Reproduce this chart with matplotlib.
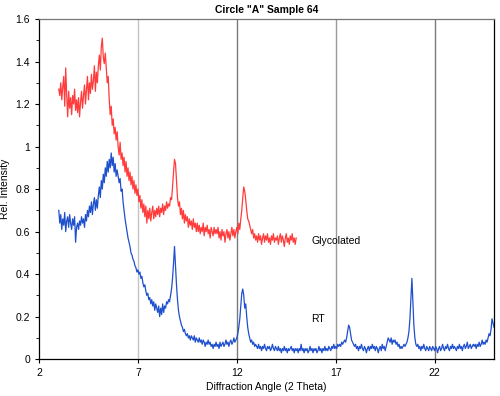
import numpy as np
import matplotlib
matplotlib.use('Agg')
from matplotlib import pyplot as plt

plt.rcParams['font.family'] = ['Liberation Sans', 'DejaVu Sans']

# sampling grid (2 Theta), step 0.05
x_glyc = np.arange(3.0, 15.0001, 0.05)
x_rt = np.arange(3.0, 25.0001, 0.05)

glycolated = [
    1.27, 1.24, 1.30, 1.22, 1.28, 1.33, 1.19, 1.37, 1.24, 1.14, 1.26, 1.18, 1.23, 1.15, 1.24, 1.20, 1.27, 1.17, 1.22, 1.16,
    1.23, 1.14, 1.21, 1.26, 1.18, 1.24, 1.29, 1.20, 1.27, 1.33, 1.22, 1.30, 1.25, 1.34, 1.27, 1.31, 1.38, 1.26, 1.35, 1.30,
    1.38, 1.43, 1.36, 1.47, 1.51, 1.42, 1.39, 1.44, 1.37, 1.30, 1.33, 1.22, 1.15, 1.19, 1.10, 1.13, 1.06, 1.09, 1.03, 1.07,
    1.00, 0.96, 1.02, 0.94, 0.97, 0.91, 0.95, 0.88, 0.93, 0.86, 0.90, 0.84, 0.88, 0.82, 0.86, 0.80, 0.84, 0.78, 0.82, 0.77,
    0.80, 0.74, 0.77, 0.71, 0.75, 0.69, 0.73, 0.67, 0.72, 0.64, 0.70, 0.66, 0.71, 0.65, 0.69, 0.72, 0.66, 0.70, 0.67, 0.71,
    0.68, 0.72, 0.67, 0.71, 0.69, 0.73, 0.68, 0.72, 0.70, 0.74, 0.71, 0.73, 0.72, 0.76, 0.75, 0.81, 0.88, 0.94, 0.92, 0.84,
    0.76, 0.72, 0.74, 0.68, 0.71, 0.66, 0.70, 0.64, 0.68, 0.65, 0.67, 0.62, 0.66, 0.63, 0.65, 0.61, 0.66, 0.62, 0.64, 0.60,
    0.64, 0.60, 0.63, 0.59, 0.62, 0.60, 0.64, 0.58, 0.62, 0.60, 0.63, 0.59, 0.61, 0.57, 0.62, 0.60, 0.58, 0.62, 0.59, 0.61,
    0.59, 0.62, 0.57, 0.60, 0.56, 0.61, 0.58, 0.60, 0.55, 0.59, 0.61, 0.57, 0.60, 0.56, 0.59, 0.62, 0.58, 0.61, 0.57, 0.60,
    0.62, 0.59, 0.64, 0.61, 0.66, 0.70, 0.76, 0.81, 0.79, 0.75, 0.70, 0.66, 0.65, 0.63, 0.61, 0.59, 0.61, 0.57, 0.59, 0.56,
    0.58, 0.55, 0.59, 0.56, 0.58, 0.54, 0.57, 0.59, 0.55, 0.58, 0.56, 0.59, 0.55, 0.57, 0.54, 0.58, 0.56, 0.59, 0.55, 0.57,
    0.56, 0.58, 0.54, 0.57, 0.59, 0.55, 0.58, 0.56, 0.53, 0.57, 0.59, 0.55, 0.57, 0.54, 0.58, 0.56, 0.59, 0.55, 0.57, 0.54, 0.57,
]

rt = [
    0.70, 0.64, 0.68, 0.61, 0.66, 0.63, 0.69, 0.60, 0.65, 0.67, 0.62, 0.68, 0.64, 0.61, 0.66, 0.63, 0.67, 0.55, 0.62, 0.64,
    0.61, 0.65, 0.63, 0.67, 0.64, 0.66, 0.62, 0.68, 0.65, 0.70, 0.67, 0.72, 0.69, 0.74, 0.68, 0.73, 0.76, 0.70, 0.75, 0.71,
    0.77, 0.81, 0.76, 0.84, 0.80, 0.87, 0.83, 0.90, 0.86, 0.93, 0.88, 0.94, 0.90, 0.97, 0.91, 0.95, 0.88, 0.92, 0.86, 0.89,
    0.86, 0.83, 0.85, 0.79, 0.80, 0.74, 0.70, 0.66, 0.63, 0.60, 0.57, 0.55, 0.53, 0.50, 0.49, 0.47, 0.46, 0.44, 0.43, 0.41,
    0.42, 0.40, 0.41, 0.38, 0.39, 0.36, 0.34, 0.35, 0.32, 0.30, 0.31, 0.28, 0.29, 0.26, 0.28, 0.25, 0.27, 0.23, 0.26, 0.24,
    0.22, 0.25, 0.20, 0.24, 0.21, 0.26, 0.22, 0.25, 0.24, 0.27, 0.26, 0.28, 0.27, 0.30, 0.33, 0.38, 0.45, 0.53, 0.44, 0.35,
    0.28, 0.23, 0.20, 0.18, 0.16, 0.15, 0.13, 0.14, 0.12, 0.11, 0.12, 0.10, 0.11, 0.09, 0.11, 0.10, 0.09, 0.11, 0.08, 0.10,
    0.09, 0.08, 0.10, 0.08, 0.09, 0.07, 0.09, 0.08, 0.06, 0.08, 0.07, 0.09, 0.07, 0.08, 0.06, 0.07, 0.05, 0.07, 0.06, 0.08,
    0.06, 0.07, 0.05, 0.08, 0.06, 0.07, 0.08, 0.06, 0.07, 0.09, 0.07, 0.08, 0.06, 0.08, 0.09, 0.07, 0.08, 0.10, 0.08, 0.09,
    0.10, 0.12, 0.15, 0.19, 0.25, 0.31, 0.33, 0.30, 0.24, 0.26, 0.20, 0.15, 0.12, 0.10, 0.08, 0.09, 0.07, 0.08, 0.06, 0.07,
    0.06, 0.05, 0.07, 0.05, 0.06, 0.04, 0.06, 0.05, 0.07, 0.05, 0.04, 0.06, 0.05, 0.06, 0.04, 0.05, 0.07, 0.05, 0.04, 0.06,
    0.05, 0.04, 0.06, 0.04, 0.05, 0.03, 0.05, 0.04, 0.06, 0.04, 0.05, 0.03, 0.05, 0.04, 0.05, 0.06, 0.04, 0.05, 0.03, 0.05,
    0.04, 0.05, 0.03, 0.05, 0.04, 0.07, 0.04, 0.05, 0.03, 0.05, 0.04, 0.05, 0.03, 0.04, 0.06, 0.04, 0.05, 0.03, 0.05, 0.04,
    0.05, 0.03, 0.04, 0.06, 0.04, 0.05, 0.03, 0.05, 0.04, 0.06, 0.04, 0.05, 0.04, 0.06, 0.05, 0.04, 0.06, 0.05, 0.07, 0.05,
    0.06, 0.05, 0.07, 0.06, 0.07, 0.06, 0.08, 0.07, 0.08, 0.09, 0.08, 0.10, 0.13, 0.16, 0.15, 0.12, 0.09, 0.08, 0.07, 0.06,
    0.07, 0.05, 0.06, 0.04, 0.06, 0.05, 0.07, 0.05, 0.04, 0.06, 0.05, 0.03, 0.05, 0.06, 0.04, 0.06, 0.05, 0.07, 0.05, 0.06,
    0.04, 0.06, 0.05, 0.03, 0.05, 0.06, 0.04, 0.07, 0.05, 0.06, 0.04, 0.06, 0.08, 0.10, 0.09, 0.08, 0.10, 0.07, 0.09, 0.08,
    0.09, 0.07, 0.08, 0.06, 0.07, 0.05, 0.06, 0.05, 0.06, 0.07, 0.06, 0.07, 0.08, 0.10, 0.13, 0.19, 0.28, 0.38, 0.27, 0.16,
    0.10, 0.07, 0.06, 0.07, 0.05, 0.06, 0.04, 0.06, 0.05, 0.07, 0.05, 0.04, 0.06, 0.05, 0.04, 0.06, 0.05, 0.04, 0.06, 0.05,
    0.04, 0.06, 0.05, 0.03, 0.05, 0.06, 0.04, 0.05, 0.07, 0.05, 0.04, 0.06, 0.05, 0.07, 0.05, 0.04, 0.06, 0.05, 0.07, 0.05,
    0.06, 0.05, 0.04, 0.06, 0.05, 0.07, 0.05, 0.06, 0.04, 0.06, 0.07, 0.05, 0.06, 0.08, 0.05, 0.06, 0.07, 0.05, 0.06, 0.07,
    0.06, 0.07, 0.05, 0.07, 0.06, 0.08, 0.06, 0.07, 0.09, 0.07, 0.08, 0.07, 0.09, 0.08, 0.10, 0.12, 0.11, 0.14, 0.19, 0.17, 0.15,
]

x_ticks = [2, 7, 12, 17, 22]
y_ticks = [0, 0.2, 0.4, 0.6, 0.8, 1.0, 1.2, 1.4, 1.6]
y_labels = ['0', '0.2', '0.4', '0.6', '0.8', '1', '1.2', '1.4', '1.6']
grid_x = [7, 12, 17, 22]
grid_colors = ['#c4c4c4', '#7a7a7a', '#9a9a9a', '#7a7a7a']

fig = plt.figure(figsize=(5, 3.96), dpi=100)
ax = fig.add_axes([0.078, 0.093, 0.91, 0.859])

for gx, gc in zip(grid_x, grid_colors):
    ax.axvline(gx, color=gc, lw=1.0, zorder=1)

ax.plot(x_glyc, glycolated, color='#ff3b3b', lw=0.9, zorder=3)
ax.plot(x_rt, rt, color='#1e4fcc', lw=0.9, zorder=3)

ax.text(15.75, 0.555, 'Glycolated', fontsize=7.5, va='center', ha='left')
ax.text(15.75, 0.19, 'RT', fontsize=7.5, va='center', ha='left')

ax.set_xlim(2, 25)
ax.set_ylim(0, 1.6)
ax.set_xticks(x_ticks)
ax.set_yticks(y_ticks)
ax.set_yticklabels(y_labels)
ax.set_yticks(np.arange(0.1, 1.6, 0.2), minor=True)
ax.tick_params(axis='both', labelsize=7.5, length=3, width=0.8, direction='out')
ax.tick_params(axis='y', which='minor', length=2, width=0.6)

ax.set_title('Circle "A" Sample 64', fontsize=7.5, fontweight='bold', pad=4)
ax.set_xlabel('Diffraction Angle (2 Theta)', fontsize=7.5, labelpad=3)
ax.set_ylabel('Rel. Intensity', fontsize=7.5, labelpad=4)

for s in ax.spines.values():
    s.set_linewidth(0.9)
ax.spines['top'].set_color('#777777')

fig.savefig('out.png', dpi=100)
